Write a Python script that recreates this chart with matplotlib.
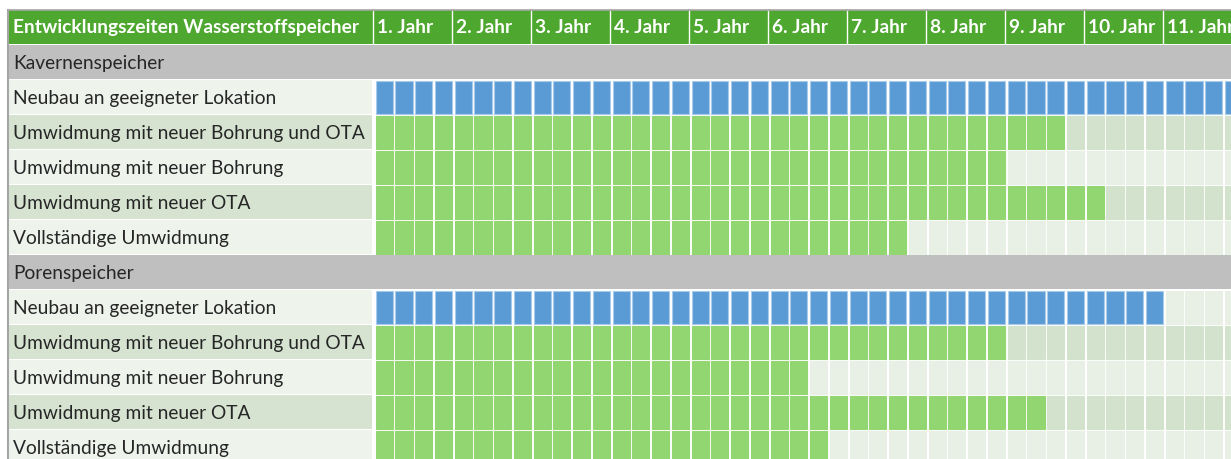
import matplotlib.pyplot as plt
from matplotlib.patches import Rectangle

plt.rcParams['font.family'] = ['Lato', 'DejaVu Sans']

title = "Entwicklungszeiten Wasserstoffspeicher"
years = ["1. Jahr", "2. Jahr", "3. Jahr", "4. Jahr", "5. Jahr", "6. Jahr",
         "7. Jahr", "8. Jahr", "9. Jahr", "10. Jahr", "11. Jahr"]
sections = ["Kavernenspeicher", "Porenspeicher"]
row_labels = ["Neubau an geeigneter Lokation",
              "Umwidmung mit neuer Bohrung und OTA",
              "Umwidmung mit neuer Bohrung",
              "Umwidmung mit neuer OTA",
              "Vollständige Umwidmung"]
# Dauer in Quartalen
kavernen_q = [44, 35, 32, 37, 27]
poren_q = [40, 32, 22, 34, 23]

W, H = 1231, 459
fig = plt.figure(figsize=(W / 100, H / 100), dpi=100)
ax = fig.add_axes([0, 0, 1, 1])
ax.set_xlim(0, W)
ax.set_ylim(H, 0)
ax.axis('off')

x_left = 8
x_grid = 374
year_w = 79
q_w = year_w / 4
row_h = 35
top = 10
fs = 13.8

green_hdr = '#4ea72e'
gray = '#bfbfbf'
blue = '#5b9bd5'
green = '#92d672'
empty_dark = '#d3e2cd'
empty_light = '#e8f0e5'
lab_dark = '#d5e3d0'
lab_light = '#eef3ec'
txt = '#262626'

# Kopfzeile
ax.add_patch(Rectangle((x_left, top), W - x_left, row_h - 1.5, color=green_hdr, lw=0))
ax.text(x_left + 5, top + row_h / 2, title, color='white', fontsize=fs,
        fontweight='bold', va='center', ha='left')
for k, yl in enumerate(years):
    xs = x_grid + k * year_w
    ax.plot([xs - 1, xs - 1], [top + 1, top + row_h - 2], color='white', lw=1)
    ax.text(xs + 3, top + row_h / 2, yl, color='white', fontsize=fs,
            fontweight='bold', va='center', ha='left')
ax.plot([x_left, W], [top, top], color='#a6a6a6', lw=1.2)

n_q = len(years) * 4
qs = list(range(n_q))
centers = [x_grid + (q // 4) * year_w + (q % 4) * q_w + q_w / 2 + 0.3 for q in qs]

y = top + row_h
for sec, durations in zip(sections, [kavernen_q, poren_q]):
    ax.add_patch(Rectangle((x_left, y), W - x_left, row_h - 1, color=gray, lw=0))
    ax.text(x_left + 5, y + row_h / 2 + 1, sec, color=txt, fontsize=fs, va='center', ha='left')
    y += row_h
    for i, (lab, d) in enumerate(zip(row_labels, durations)):
        dark = i % 2 == 1
        ax.add_patch(Rectangle((x_left, y), x_grid - x_left - 2, row_h - 1.5,
                               color=lab_dark if dark else lab_light, lw=0))
        ax.text(x_left + 5, y + row_h / 2 + 1, lab, color=txt, fontsize=fs, va='center', ha='left')
        fill = blue if i == 0 else green
        empty = empty_dark if dark else empty_light
        cols = [fill if q < d else empty for q in qs]
        edges = ['#a9cbeb' if (c == blue) else c for c in cols]
        ax.bar(centers, row_h - 2.5, bottom=y + 1, width=q_w - 2.6,
               color=cols, edgecolor=edges, linewidth=0.8, align='center')
        y += row_h

ax.plot([x_left, x_left], [top, H], color='#a6a6a6', lw=1.5)

fig.savefig('out.png', dpi=100)
